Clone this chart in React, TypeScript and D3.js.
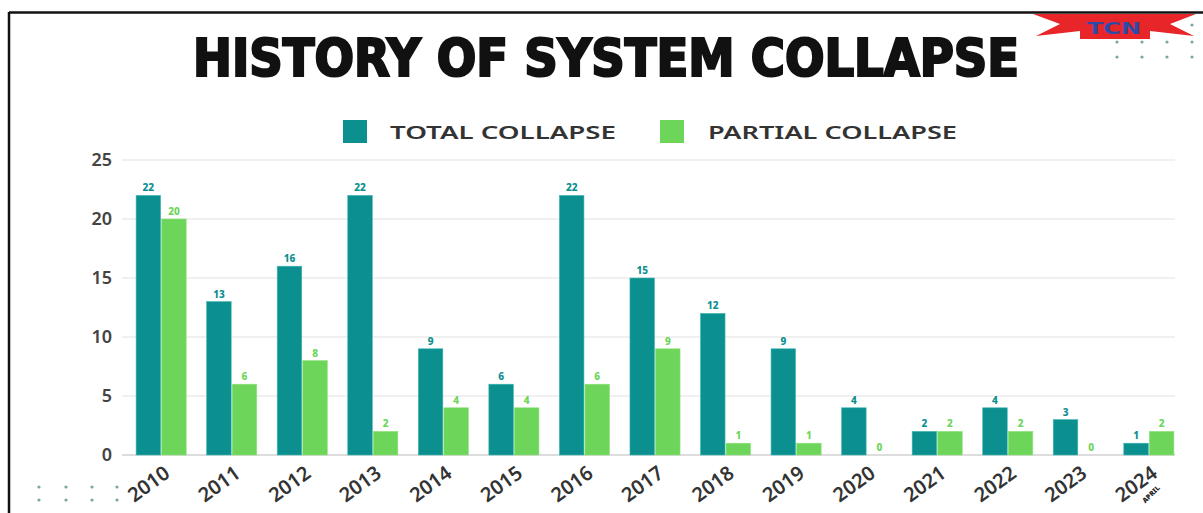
import React from "react";
import * as d3 from "d3";

const years = ["2010", "2011", "2012", "2013", "2014", "2015", "2016", "2017", "2018", "2019", "2020", "2021", "2022", "2023", "2024"];
const totalCollapse = [22, 13, 16, 22, 9, 6, 22, 15, 12, 9, 4, 2, 4, 3, 1];
const partialCollapse = [20, 6, 8, 2, 4, 4, 6, 9, 1, 1, 0, 2, 2, 0, 2];
const yTicks = [0, 5, 10, 15, 20, 25];
const seriesNames = ["TOTAL COLLAPSE", "PARTIAL COLLAPSE"];
const titleText = "HISTORY OF SYSTEM COLLAPSE";

const TEAL = "#0b8f8f";
const GREEN = "#6dd55a";

export default function App() {
  const W = 1203;
  const H = 513;
  const x = d3.scaleBand<string>().domain(years).range([122, 1188]).paddingInner(0.29).paddingOuter(0.2);
  const xs = d3.scaleBand<string>().domain(["total", "partial"]).range([0, x.bandwidth()]).paddingInner(0.04);
  const y = d3.scaleLinear().domain([0, 25]).range([455, 160]);
  const series = [
    { key: "total", values: totalCollapse, color: TEAL },
    { key: "partial", values: partialCollapse, color: GREEN },
  ];
  const axisFont = "'Noto Sans', 'DejaVu Sans', sans-serif";

  const dotsTR: [number, number][] = [];
  [1117, 1142, 1167, 1192].forEach((dx) => [42, 57].forEach((dy) => dotsTR.push([dx, dy])));
  dotsTR.push([1192, 25]);
  const dotsBL: [number, number][] = [];
  [39, 66, 92, 117].forEach((dx) => [487, 500].forEach((dy) => dotsBL.push([dx, dy])));

  return (
    <svg width={W} height={H} style={{ position: "absolute", left: 0, top: 0, display: "block", background: "#fff" }}>
      <rect x={0} y={0} width={W} height={H} fill="#fff" />
      {/* frame */}
      <line x1={9} y1={12.5} x2={W} y2={12.5} stroke="#111" strokeWidth={2.5} />
      <line x1={9} y1={12} x2={9} y2={H} stroke="#111" strokeWidth={2.5} />

      {/* TCN logo */}
      <polygon
        points="1033,14 1196,14 1170,24 1194,36 1150,31 1150,39 1080,39 1080,31 1036,36 1060,24"
        fill="#e8262a"
      />
      <text x={1114} y={34} textAnchor="middle" fontFamily="'DejaVu Sans', sans-serif" fontWeight={900} fontSize={15} fill="#2d4aa8" textLength={54} lengthAdjust="spacingAndGlyphs">TCN</text>
      {dotsTR.map(([dx, dy], i) => (
        <circle key={"tr" + i} cx={dx} cy={dy} r={1.6} fill="#7aa8a0" />
      ))}
      {dotsBL.map(([dx, dy], i) => (
        <circle key={"bl" + i} cx={dx} cy={dy} r={1.6} fill="#7aa8a0" />
      ))}

      {/* title */}
      <text
        x={606}
        y={76}
        textAnchor="middle"
        fontFamily="'Liberation Sans Narrow', 'DejaVu Sans Condensed', 'Liberation Sans', sans-serif"
        fontWeight={700}
        fontSize={52}
        fill="#111"
        stroke="#111"
        strokeWidth={2.2}
        textLength={826}
        lengthAdjust="spacingAndGlyphs"
      >
        {titleText}
      </text>

      {/* legend */}
      <rect x={343} y={120} width={24} height={23} fill={TEAL} />
      <text x={390} y={139} fontFamily={axisFont} fontWeight={600} fontSize={18} fill="#333" textLength={226} lengthAdjust="spacingAndGlyphs">{seriesNames[0]}</text>
      <rect x={660} y={120} width={24} height={23} fill={GREEN} />
      <text x={708} y={139} fontFamily={axisFont} fontWeight={600} fontSize={18} fill="#333" textLength={249} lengthAdjust="spacingAndGlyphs">{seriesNames[1]}</text>

      {/* grid + y axis */}
      {yTicks.map((t) => (
        <g key={t}>
          <line x1={122} x2={1175} y1={y(t)} y2={y(t)} stroke={t === 0 ? "#bbb" : "#e2e2e2"} strokeWidth={1.2} />
          <text x={112} y={y(t) + 6} textAnchor="end" fontFamily={axisFont} fontWeight={600} fontSize={18} fill="#444">{t}</text>
        </g>
      ))}

      {/* bars */}
      {series.map((s) =>
        years.map((yr, i) => {
          const bx = (x(yr) ?? 0) + (xs(s.key) ?? 0);
          const bw = xs.bandwidth();
          const v = s.values[i];
          return (
            <g key={s.key + yr}>
              {v > 0 && (
                <rect x={bx} y={y(v)} width={bw} height={y(0) - y(v)} fill={s.color} stroke={s.key === "total" ? "#3fb8b4" : "#8fe27c"} strokeWidth={0.6} />
              )}
              <text x={bx + bw / 2} y={y(v) - 4} textAnchor="middle" fontFamily={axisFont} fontWeight={800} fontSize={10} fill={s.color}>{v}</text>
            </g>
          );
        })
      )}

      {/* x labels */}
      {years.map((yr) => {
        const cx = (x(yr) ?? 0) + x.bandwidth() / 2;
        return (
          <text key={yr} transform={`translate(${cx + 10},${476}) rotate(-36)`} textAnchor="end" fontFamily={axisFont} fontWeight={600} fontSize={20} fill="#333">{yr}</text>
        );
      })}
      {(() => {
        const cx = (x("2024") ?? 0) + x.bandwidth() / 2;
        return (
          <text transform={`translate(${cx + 4},${496}) rotate(-45)`} textAnchor="middle" fontFamily={axisFont} fontWeight={900} fontSize={7} fill="#222">APRIL</text>
        );
      })()}
    </svg>
  );
}
